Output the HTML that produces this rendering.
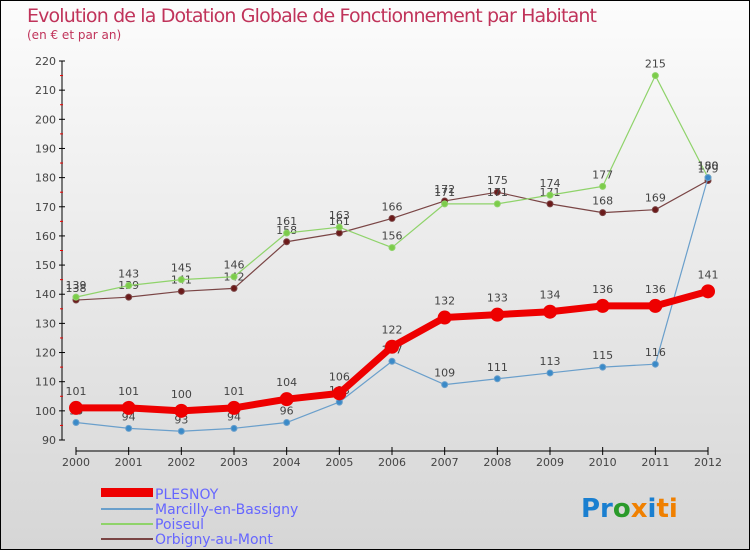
<!DOCTYPE html>
<html><head><meta charset="utf-8"><style>
body{margin:0}
#c{width:748px;height:548px;border:1px solid #000;background:linear-gradient(#fcfcfc,#d6d6d6);position:relative;font-family:"DejaVu Sans","Liberation Sans",sans-serif;overflow:hidden}
svg text{font-family:"DejaVu Sans","Liberation Sans",sans-serif}
</style></head><body>
<div id="c">
<svg width="748" height="548">
<text x="26" y="21" font-size="19" fill="#c0335a" textLength="570">Evolution de la Dotation Globale de Fonctionnement par Habitant</text>
<text x="26" y="38" font-size="12" fill="#c0335a">(en € et par an)</text>
<g id="g"></g>
<g>
<rect x="100" y="487" width="52" height="9" fill="#e00"/>
<text x="154" y="498" font-size="14" fill="#6666ff">PLESNOY</text>
<rect x="100" y="507" width="52" height="2" fill="#6a9fcb"/>
<text x="154" y="513" font-size="14" fill="#6666ff">Marcilly-en-Bassigny</text>
<rect x="100" y="522" width="52" height="2" fill="#8fd36a"/>
<text x="154" y="528" font-size="14" fill="#6666ff">Poiseul</text>
<rect x="100" y="537" width="52" height="2" fill="#7a4545"/>
<text x="154" y="543" font-size="14" fill="#6666ff">Orbigny-au-Mont</text>
</g>
<text x="580" y="516" font-size="26" font-weight="bold"><tspan fill="#1a7fd0">Pr</tspan><tspan fill="#2a9a2a">o</tspan><tspan fill="#f08000">x</tspan><tspan fill="#1a7fd0">i</tspan><tspan fill="#f08000">ti</tspan></text>
</svg>
</div>
<script>
const years=[2000,2001,2002,2003,2004,2005,2006,2007,2008,2009,2010,2011,2012];
const plesnoy=[101,101,100,101,104,106,122,132,133,134,136,136,141];
const marcilly=[96,94,93,94,96,103,117,109,111,113,115,116,180];
const poiseul=[139,143,145,146,161,163,156,171,171,174,177,215,180];
const orbigny=[138,139,141,142,158,161,166,172,175,171,168,169,179];
const yTicks=[90,100,110,120,130,140,150,160,170,180,190,200,210,220];
const NS="http://www.w3.org/2000/svg";
const g=document.getElementById('g');
const X=i=>75+i*(707-75)/(years.length-1);
const Y=v=>439-(v-90)*(439-60)/130;
function mk(t,a){const e=document.createElementNS(NS,t);for(const k in a)e.setAttribute(k,a[k]);g.appendChild(e);return e;}
let e=mk('line',{x1:61,y1:Y(220),x2:61,y2:Y(90),stroke:'#000'});


e=mk('line',{x1:75,y1:450,x2:707,y2:450,stroke:'#000'});


yTicks.forEach(v=>{
 let t=mk('line',{x1:58,x2:64,y1:Y(v),y2:Y(v),stroke:'#000'});
 
 
 if(v<220){let m=mk('line',{x1:59,x2:62,y1:Y(v+5),y2:Y(v+5),stroke:'#e00'});
 
 }
 let l=mk('text',{x:55,y:Y(v)+4,'font-size':11,fill:'#444','text-anchor':'end'});
 l.textContent=v;
 
 
});
years.forEach((y,i)=>{
 let t=mk('line',{x1:X(i),x2:X(i),y1:446,y2:454,stroke:'#000'});
 
 
 let l=mk('text',{x:X(i),y:465,'font-size':11,fill:'#444','text-anchor':'middle'});
 l.textContent=y;
 
 
});
function series(d,name,col,dot,w,r,fs,off){
 const p=d.map((v,i)=>X(i)+','+Y(v)).join(' ');
 let l=mk('polyline',{points:p,fill:'none',stroke:col,'stroke-width':w,'stroke-linejoin':'round'});
 
 
 d.forEach((v,i)=>{
  let c=mk('circle',{cx:X(i),cy:Y(v),r:r,fill:dot,stroke:col,'stroke-width':1});
  
  
  let t=mk('text',{x:X(i),y:Y(v)+off,'font-size':fs,fill:'#444','text-anchor':'middle'});
  t.textContent=v;
  
  
 });
}
series(orbigny,'orbigny','#7a4545','#6b1a1a',1.2,3,11,-8);
series(poiseul,'poiseul','#8fd36a','#7ccc4a',1.2,3,11,-8);
series(marcilly,'marcilly','#6a9fcb','#3a8ac8',1.2,3,11,-8);
series(plesnoy,'plesnoy','#ee0000','#ee0000',7,6.5,11,-13);
</script>
</body></html>
